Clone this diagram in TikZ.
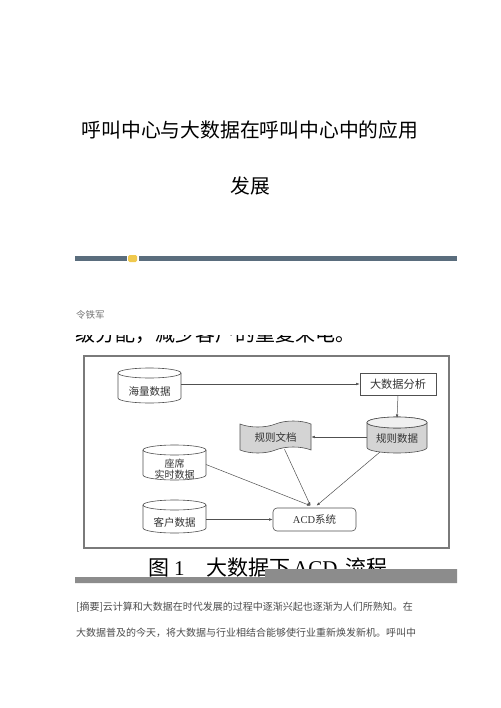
\documentclass[tikz,border=0pt]{standalone}
\usepackage{fontspec}
\setmainfont{Liberation Serif}
\newfontfamily\cjk{Noto Sans CJK SC}
\usetikzlibrary{arrows.meta,shapes.symbols}
\definecolor{barblue}{HTML}{5A6D7D}
\definecolor{baryellow}{HTML}{F0C94E}
\definecolor{figline}{HTML}{505050}
\definecolor{capbar}{HTML}{8C8C8C}
\definecolor{framegray}{HTML}{7A7A7A}
\definecolor{shadegray}{HTML}{D4D4D4}
\definecolor{figtext}{HTML}{333333}
\newcommand{\fsz}[1]{\fontsize{#1pt}{#1pt}\selectfont}
\newcommand{\cylshape}[4]{%
  \path[cylline, fill=#4] ([yshift=-#3pt]#1.north west) -- ([yshift=#3pt]#1.south west)
    arc[start angle=180, end angle=360, x radius=#2pt, y radius=#3pt]
    -- ([yshift=-#3pt]#1.north east)
    arc[start angle=0, end angle=180, x radius=#2pt, y radius=#3pt] -- cycle;
  \draw[cylline] ([yshift=-#3pt]#1.north west)
    arc[start angle=180, end angle=360, x radius=#2pt, y radius=#3pt];
}
\tikzset{
  cylline/.style={draw=figline, line width=0.6pt},
  boxarea/.style={inner sep=0pt, outer sep=0pt, draw=none},
  figlabel/.style={text=figtext, font=\cjk\fsz{10.5}, inner sep=0pt},
  conn/.style={draw=figline, line width=0.5pt, -{Latex[length=3.5pt,width=2.6pt]}},
}
\begin{document}
\begin{tikzpicture}[x=1pt, y=-1pt]
\useasboundingbox (0,0) rectangle (500,708);
\fill[white] (0,0) rectangle (500,708);

% title
\node[font=\cjk\fsz{19.8}, inner sep=0pt] (title1) at (250,130) {呼叫中心与大数据在呼叫中心中的应用};
\node[font=\cjk\fsz{19.8}, inner sep=0pt] (title2) at (250,186) {发展};

% decorative bar
\fill[barblue] (75,256) rectangle (127,261);
\fill[barblue] (139,256) rectangle (457,261);
\fill[baryellow, rounded corners=1.5pt] (128,255) rectangle (137,262);

% author
\node[font=\cjk\fsz{9.5}, text=black!55, anchor=west, inner sep=0pt] (author) at (76,315) {令铁军};

% cut-off line of text
\begin{scope}
\clip (60,335) rectangle (420,352);
\node[font=\cjk\fsz{20}, anchor=base west, inner sep=0pt] (cutline) at (75,341.5) {级分配，减少客户的重复来电。};
\end{scope}

% figure frame
\draw[framegray, line width=1.2pt] (84,356) rectangle (449,548);

% nodes
\node[boxarea, minimum width=63pt, minimum height=35pt] (hl) at (149.5,385.5) {};
\cylshape{hl}{31.5}{5}{white}
\node[figlabel] (hlt) at (149.5,391.5) {海量数据};

\node[draw=figline, line width=0.6pt, fill=white, minimum width=76pt, minimum height=22pt, inner sep=0pt, text=figtext, font=\cjk\fsz{11.2}] (dsj) at (398,384) {大数据分析};

\node[boxarea, minimum width=60pt, minimum height=36pt] (gzsj) at (397,435) {};
\cylshape{gzsj}{30}{5.5}{shadegray}
\path[cylline, fill=black!6] ([yshift=-5.5pt]gzsj.north) ellipse[x radius=30pt, y radius=5.5pt];
\node[figlabel] (gzsjt) at (397,439) {规则数据};

\node[tape, draw=figline, line width=0.6pt, fill=shadegray, minimum width=71pt, minimum height=32pt, tape bend height=6pt, inner sep=0pt, text=figtext, font=\cjk\fsz{10.5}] (gzwd) at (275.5,437) {规则文档};

\node[boxarea, minimum width=63pt, minimum height=35pt] (zx) at (174.5,462.5) {};
\cylshape{zx}{31.5}{5}{white}
\node[figlabel, align=center, font=\cjk\fontsize{10pt}{11pt}\selectfont] (zxt) at (174.5,469) {座席\\实时数据};

\node[boxarea, minimum width=63pt, minimum height=33pt] (kh) at (174.5,516.5) {};
\cylshape{kh}{31.5}{5}{white}
\node[figlabel] (kht) at (174.5,522) {客户数据};

\node[draw=figline, line width=0.6pt, fill=white, rounded corners=4pt, minimum width=83pt, minimum height=23pt, inner sep=0pt, text=figtext] (acd) at (314.5,519.5) {\fsz{10.5}ACD{\cjk 系统}};

% connectors
\draw[conn] (hl.east |- dsj.west) -- (dsj.west);
\draw[conn] (dsj.south) -- ([yshift=-1pt]gzsj.north);
\draw[conn] (gzsj.west |- gzwd.east) -- (gzwd.east);
\draw[conn] ([yshift=-2pt]zx.east) -- ([xshift=-4pt,yshift=2pt]acd.north);
\draw[conn] ([xshift=9pt,yshift=1pt]gzwd.south) -- ([xshift=-4pt,yshift=2pt]acd.north);
\draw[conn] ([xshift=-17pt,yshift=1pt]gzsj.south) -- ([xshift=2pt,yshift=2pt]acd.north);
\draw[conn] (kh.east |- acd.west) -- (acd.west);

% caption
\node[font=\cjk\fsz{21}, anchor=base west, inner sep=0pt] (capfig) at (148,575) {图};
\node[font=\fsz{21}, anchor=base west, inner sep=0pt] (capnum) at (174,575) {1};
\node[font=\cjk\fsz{21}, anchor=base west, inner sep=0pt] (captxt) at (206,575) {大数据下};
\node[font=\fsz{21}, anchor=base west, inner sep=0pt] (capacd) at (293,575) {ACD};
\node[font=\cjk\fsz{21}, anchor=base west, inner sep=0pt] (capflow) at (345,575) {流程};

% grey overlay bar
\fill[capbar] (75,577) -- (265,577) -- (265,569) -- (457,569) -- (457,583) -- (75,583) -- cycle;

% abstract
\node[font=\cjk\fsz{10}, text=black!70, anchor=west, inner sep=0pt] (abs1) at (76,607) {[摘要]云计算和大数据在时代发展的过程中逐渐兴起也逐渐为人们所熟知。在};
\node[font=\cjk\fsz{10}, text=black!70, anchor=west, inner sep=0pt] (abs2) at (76,633) {大数据普及的今天，将大数据与行业相结合能够使行业重新焕发新机。呼叫中};
\end{tikzpicture}
\end{document}
